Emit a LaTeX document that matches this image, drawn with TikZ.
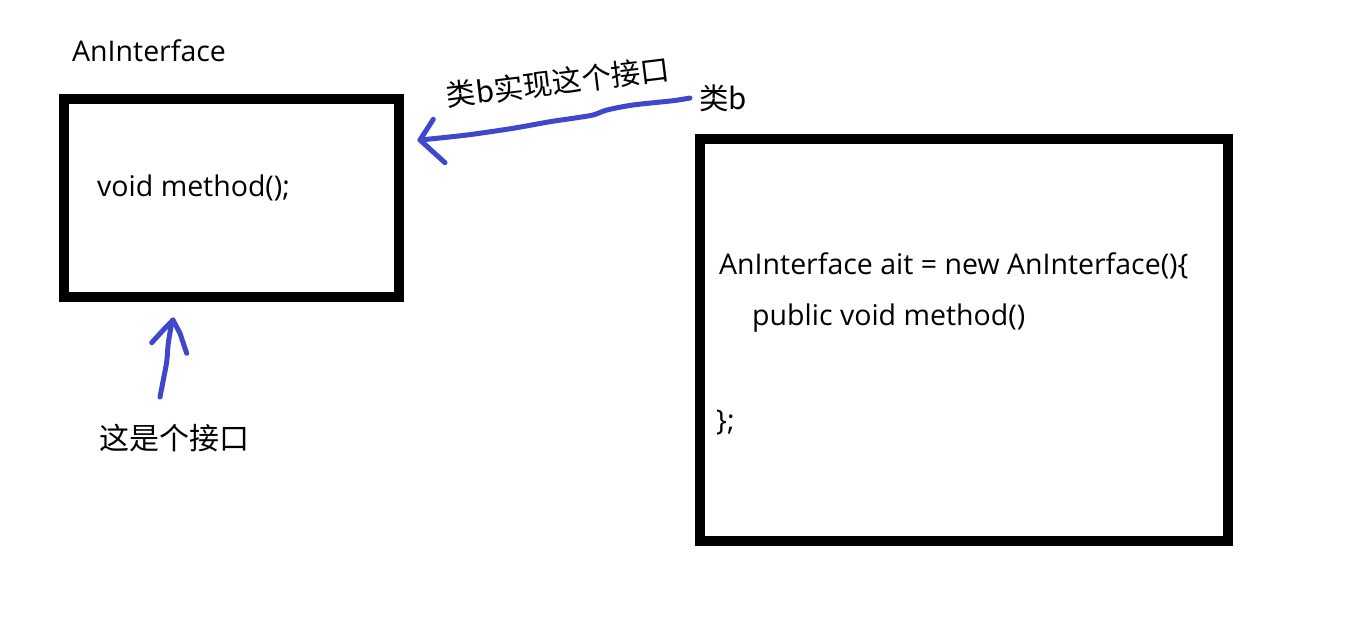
\documentclass[tikz,border=0pt]{standalone}
\usepackage{fontspec}
\setmainfont{Open Sans}
\newfontfamily\cjk{Noto Sans CJK SC}
\begin{document}
\begin{tikzpicture}[x=1pt,y=-1pt]
\definecolor{penblue}{RGB}{63,72,204}
\tikzset{
  boxframe/.style={draw=black, line width=10pt, inner sep=0pt, outer sep=0pt},
  codetext/.style={anchor=base west, inner sep=0pt, font=\fontsize{28.5}{34}\selectfont},
  cjktext/.style={inner sep=0pt, font=\cjk\fontsize{30}{34}\selectfont},
  bluepen/.style={draw=penblue, line width=5pt, line cap=round, line join=round}
}
\useasboundingbox[fill=white] (0,0) rectangle (1350,629);

% boxes
\node[boxframe, minimum width=335pt, minimum height=198pt] (lbox) at (231.5,198) {};
\node[boxframe, minimum width=528pt, minimum height=402pt] (rbox) at (964,340) {};

% texts
\node[codetext] (title) at (72,61) {AnInterface};
\node[codetext] (lm) at (97,196) {void method();};
\node[codetext] (r1) at (719,274) {AnInterface ait = new AnInterface()\{};
\node[codetext] (r2) at (752,325) {public void method()};
\node[codetext] (r3) at (716,430) {\};};
\node[cjktext] (iface) at (174,438) {这是个接口};
\node[cjktext, anchor=west, font=\cjk\fontsize{29.5}{34}\selectfont] (clsb) at (699,98) {类b};
\node[cjktext, rotate=7, font=\cjk\fontsize{29.5}{34}\selectfont] (impl) at (558,82) {类b实现这个接口};

% arrow from class b to the interface box
\coordinate (tail1) at ([xshift=-9pt]clsb.west);
\coordinate (tip1) at ([xshift=21pt, yshift=58pt]lbox.east);
\draw[bluepen] plot[smooth, tension=0.5] coordinates {(tail1) (673,100.7) (633,105) (607,110) (593,115) (573,118.3) (550,121.7) (513,128.3) (467,135) (tip1)};
\draw[bluepen] (433.3,119.3) -- (tip1) -- (445,162.7);

% arrow from label up to the interface box
\coordinate (tip2) at ([xshift=-58.5pt, yshift=-23pt]lbox.south);
\coordinate (tail2) at (160,397);
\draw[bluepen] plot[smooth, tension=0.5] coordinates {(tail2) (163.3,380) (166.7,361.7) (168.3,343.3) (171.7,323.3) (tip2)};
\draw[bluepen] (151.7,342.7) -- (163.3,330) -- (tip2) -- (180,333.3) -- (186.7,353.3);
\end{tikzpicture}
\end{document}
